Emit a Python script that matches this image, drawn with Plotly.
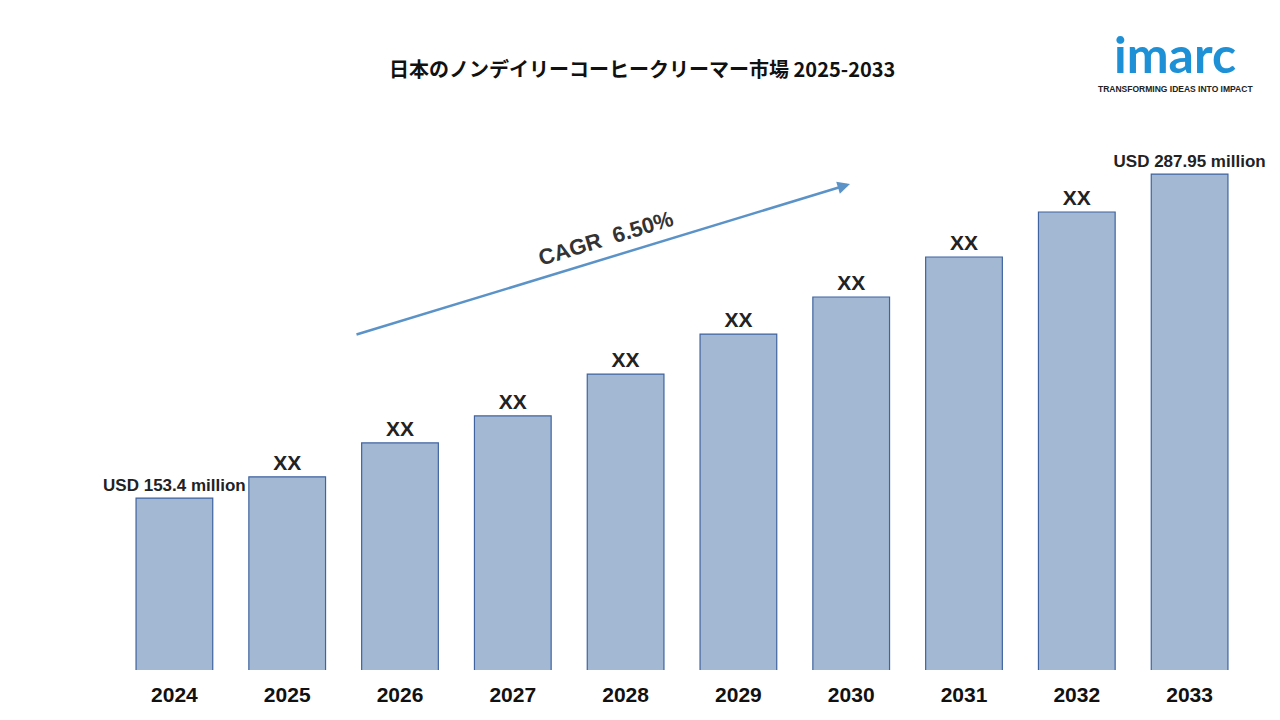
import plotly.graph_objects as go

years = ["2024","2025","2026","2027","2028","2029","2030","2031","2032","2033"]
values = [153.4,162.2,176.3,187.5,204.9,221.5,236.9,253.5,272.2,287.95]
labels = ["USD 153.4 million","XX","XX","XX","XX","XX","XX","XX","XX","USD 287.95 million"]

L, R, T, B = 110, 42, 112, 58
W, H = 1280, 720
pw, ph = W-L-R, H-T-B
OFF = 8
def px(x): return (x-OFF-L)/pw
def py(y): return (H-B-(y-OFF))/ph

fig = go.Figure()
fig.add_trace(go.Bar(x=years, y=values, width=0.68,
    marker=dict(color="#a3b9d3", line=dict(color="#3f63a0", width=1.2)),
    text=["<b>"+t+"</b>" for t in labels], textposition="outside", constraintext="none",
    textfont=dict(family="Liberation Sans", size=[17,21,21,21,21,21,21,21,21,17], color="#222"),
    cliponaxis=False))
fig.update_layout(width=W, height=H, margin=dict(l=L,r=R,t=T,b=B, autoexpand=False),
    plot_bgcolor="white", paper_bgcolor="white", showlegend=False,
    xaxis=dict(showline=False, ticks="", ticklabelstandoff=10,
               tickfont=dict(family="Liberation Sans", size=21, color="#111"), tickprefix="<b>", ticksuffix="</b>"),
    yaxis=dict(range=[82, 310.4], visible=False, showgrid=False),
    annotations=[
        dict(x=px(642), y=py(68), xref="paper", yref="paper", showarrow=False,
             text="<b>日本のノンデイリーコーヒークリーマー市場 2025-2033</b>",
             font=dict(family="Noto Sans CJK JP", size=20, color="#111"), xanchor="center", yanchor="middle"),
        dict(x=px(850), y=py(184), ax=-495, ay=151, xref="paper", yref="paper", axref="pixel", ayref="pixel",
             showarrow=True, arrowhead=2, arrowsize=1, arrowwidth=2.5, arrowcolor="#5b93c8", text=""),
        dict(x=px(605), y=py(238), xref="paper", yref="paper", showarrow=False, textangle=-17,
             xanchor="center", yanchor="middle",
             text="<b>CAGR  6.50%</b>", font=dict(family="Liberation Sans", size=22, color="#333")),
        dict(x=px(1175), y=py(54), xref="paper", yref="paper", showarrow=False, xanchor="center", yanchor="middle",
             text="<b>imarc</b>", font=dict(family="Lato", size=50, color="#1e90d6")),
        dict(x=px(1175), y=py(89), xref="paper", yref="paper", showarrow=False, xanchor="center", yanchor="middle",
             text="<b>TRANSFORMING IDEAS INTO IMPACT</b>", font=dict(family="Liberation Sans", size=8.5, color="#222")),
    ])
fig.write_html("out.html")
